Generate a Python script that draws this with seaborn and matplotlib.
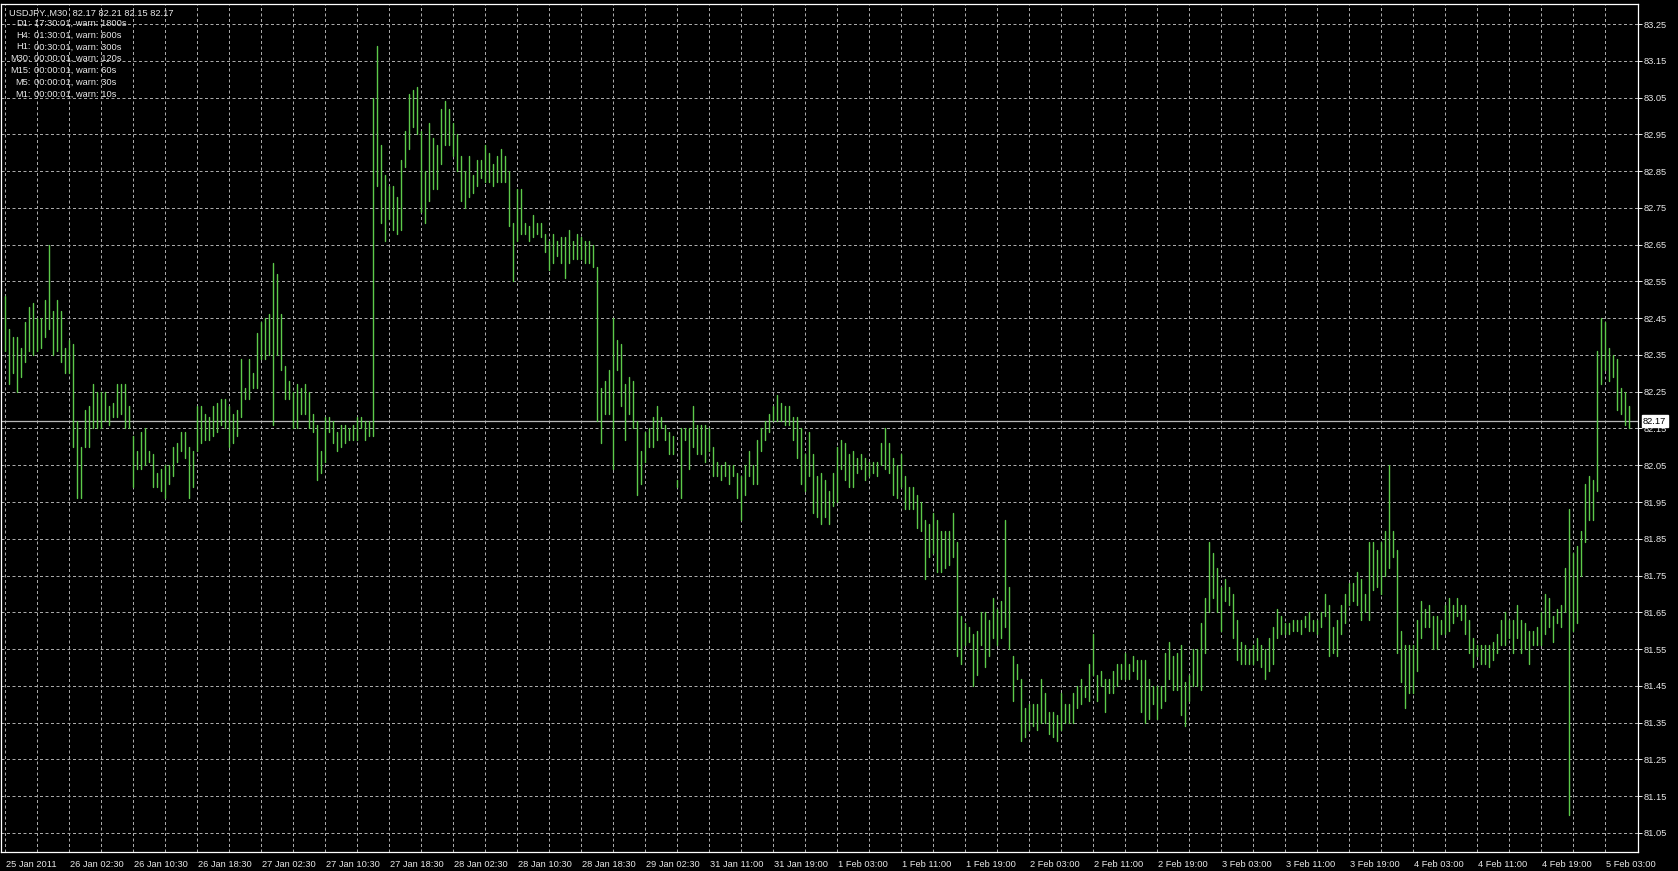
import numpy as np
import pandas as pd
import matplotlib
matplotlib.use("Agg")
import matplotlib.pyplot as plt
import matplotlib.transforms as mtransforms
import seaborn as sns

# USDJPY M30 bars, high and low of every bar
bar_high = [
    82.51, 82.42, 82.40, 82.40, 82.37, 82.44, 82.48, 82.49, 82.45, 82.45,
    82.50, 82.65, 82.47, 82.50, 82.47, 82.37, 82.39, 82.38, 82.17, 82.10,
    82.20, 82.21, 82.27, 82.25, 82.25, 82.25, 82.21, 82.22, 82.27, 82.27,
    82.27, 82.21, 82.13, 82.09, 82.14, 82.15, 82.09, 82.08, 82.03, 82.04,
    82.05, 82.05, 82.10, 82.11, 82.14, 82.14, 82.10, 82.09, 82.21, 82.21,
    82.19, 82.18, 82.21, 82.22, 82.23, 82.23, 82.21, 82.19, 82.20, 82.34,
    82.26, 82.34, 82.30, 82.41, 82.44, 82.45, 82.46, 82.60, 82.57, 82.46,
    82.32, 82.28, 82.25, 82.27, 82.26, 82.27, 82.25, 82.19, 82.16, 82.09,
    82.18, 82.18, 82.17, 82.14, 82.16, 82.16, 82.15, 82.16, 82.18, 82.18,
    82.17, 82.17, 83.05, 83.19, 82.92, 82.84, 82.81, 82.81, 82.78, 82.88,
    82.96, 83.06, 83.07, 83.08, 82.96, 82.85, 82.98, 82.94, 82.92, 83.02,
    83.04, 83.02, 82.98, 82.95, 82.89, 82.85, 82.89, 82.84, 82.88, 82.88,
    82.92, 82.90, 82.87, 82.89, 82.91, 82.89, 82.85, 82.71, 82.80, 82.80,
    82.71, 82.70, 82.73, 82.71, 82.71, 82.68, 82.66, 82.68, 82.66, 82.67,
    82.67, 82.69, 82.66, 82.68, 82.67, 82.66, 82.66, 82.65, 82.59, 82.26,
    82.28, 82.31, 82.45, 82.39, 82.38, 82.27, 82.29, 82.28, 82.17, 82.09,
    82.14, 82.15, 82.18, 82.21, 82.18, 82.16, 82.14, 82.13, 82.01, 82.15,
    82.15, 82.15, 82.21, 82.16, 82.16, 82.16, 82.15, 82.10, 82.06, 82.05,
    82.06, 82.05, 82.05, 82.03, 82.02, 82.05, 82.09, 82.05, 82.12, 82.15,
    82.17, 82.19, 82.21, 82.24, 82.22, 82.21, 82.21, 82.18, 82.18, 82.15,
    82.08, 82.14, 82.08, 82.02, 82.03, 82.01, 81.98, 82.03, 82.10, 82.12,
    82.11, 82.08, 82.09, 82.07, 82.08, 82.07, 82.06, 82.06, 82.06, 82.11,
    82.15, 82.11, 82.07, 82.05, 82.08, 82.02, 81.99, 81.99, 81.97, 81.95,
    81.90, 81.89, 81.92, 81.90, 81.87, 81.87, 81.87, 81.92, 81.84, 81.64,
    81.62, 81.61, 81.59, 81.60, 81.65, 81.65, 81.63, 81.69, 81.66, 81.68,
    81.90, 81.72, 81.53, 81.51, 81.47, 81.39, 81.40, 81.40, 81.40, 81.47,
    81.43, 81.38, 81.38, 81.37, 81.43, 81.40, 81.40, 81.43, 81.45, 81.47,
    81.45, 81.51, 81.59, 81.48, 81.49, 81.47, 81.47, 81.49, 81.51, 81.51,
    81.54, 81.51, 81.53, 81.52, 81.52, 81.52, 81.47, 81.45, 81.45, 81.45,
    81.54, 81.57, 81.53, 81.54, 81.56, 81.46, 81.48, 81.55, 81.55, 81.62,
    81.69, 81.84, 81.81, 81.77, 81.72, 81.74, 81.72, 81.70, 81.63, 81.57,
    81.56, 81.55, 81.56, 81.58, 81.56, 81.55, 81.58, 81.61, 81.66, 81.64,
    81.62, 81.62, 81.63, 81.63, 81.63, 81.64, 81.65, 81.63, 81.63, 81.65,
    81.70, 81.67, 81.61, 81.63, 81.67, 81.70, 81.73, 81.73, 81.76, 81.74,
    81.70, 81.84, 81.84, 81.82, 81.84, 81.87, 82.05, 81.87, 81.82, 81.60,
    81.56, 81.56, 81.56, 81.63, 81.68, 81.66, 81.67, 81.64, 81.64, 81.63,
    81.67, 81.69, 81.67, 81.69, 81.67, 81.67, 81.63, 81.58, 81.56, 81.56,
    81.56, 81.56, 81.57, 81.59, 81.63, 81.65, 81.63, 81.63, 81.67, 81.63,
    81.62, 81.60, 81.60, 81.61, 81.65, 81.70, 81.69, 81.64, 81.66, 81.67,
    81.77, 81.93, 81.81, 81.83, 81.87, 82.00, 82.02, 82.01, 82.36, 82.45,
    82.44, 82.37, 82.35, 82.34, 82.26, 82.25, 82.21,
]

bar_low = [
    82.36, 82.27, 82.30, 82.25, 82.29, 82.33, 82.36, 82.35, 82.36, 82.37,
    82.40, 82.42, 82.35, 82.36, 82.33, 82.30, 82.30, 82.10, 81.96, 81.96,
    82.10, 82.10, 82.15, 82.15, 82.15, 82.17, 82.16, 82.18, 82.18, 82.19,
    82.15, 82.15, 81.99, 82.04, 82.04, 82.05, 82.06, 81.99, 81.99, 81.98,
    81.96, 82.00, 82.02, 82.06, 82.09, 82.07, 81.96, 81.99, 82.09, 82.11,
    82.12, 82.12, 82.13, 82.14, 82.16, 82.15, 82.10, 82.11, 82.13, 82.18,
    82.23, 82.23, 82.26, 82.26, 82.34, 82.34, 82.35, 82.16, 82.35, 82.31,
    82.23, 82.23, 82.15, 82.15, 82.19, 82.19, 82.15, 82.14, 82.01, 82.03,
    82.06, 82.14, 82.11, 82.09, 82.10, 82.11, 82.12, 82.12, 82.12, 82.15,
    82.12, 82.13, 82.13, 82.81, 82.71, 82.66, 82.72, 82.69, 82.68, 82.69,
    82.86, 82.91, 82.97, 82.95, 82.74, 82.71, 82.77, 82.80, 82.80, 82.87,
    82.92, 82.92, 82.89, 82.85, 82.77, 82.75, 82.78, 82.79, 82.81, 82.83,
    82.82, 82.82, 82.81, 82.82, 82.82, 82.82, 82.70, 82.55, 82.66, 82.68,
    82.68, 82.66, 82.67, 82.68, 82.67, 82.63, 82.58, 82.60, 82.62, 82.60,
    82.56, 82.60, 82.61, 82.61, 82.61, 82.60, 82.60, 82.59, 82.17, 82.11,
    82.19, 82.19, 82.04, 82.31, 82.21, 82.12, 82.19, 82.15, 81.97, 82.00,
    82.06, 82.10, 82.10, 82.12, 82.15, 82.12, 82.08, 82.08, 81.99, 81.96,
    82.12, 82.04, 82.10, 82.08, 82.08, 82.06, 82.09, 82.02, 82.02, 82.01,
    82.02, 82.00, 82.02, 81.96, 81.90, 81.97, 82.02, 82.00, 82.00, 82.09,
    82.12, 82.14, 82.17, 82.17, 82.17, 82.16, 82.16, 82.12, 82.07, 82.00,
    81.98, 82.02, 81.92, 81.91, 81.89, 81.91, 81.89, 81.94, 81.95, 82.04,
    82.01, 81.99, 81.99, 82.03, 82.04, 82.01, 82.02, 82.03, 82.02, 82.05,
    82.04, 82.03, 81.97, 81.96, 81.99, 81.93, 81.93, 81.93, 81.88, 81.87,
    81.74, 81.80, 81.81, 81.76, 81.76, 81.77, 81.78, 81.80, 81.53, 81.51,
    81.56, 81.57, 81.45, 81.48, 81.56, 81.50, 81.53, 81.58, 81.56, 81.58,
    81.61, 81.55, 81.41, 81.47, 81.30, 81.31, 81.33, 81.34, 81.33, 81.35,
    81.35, 81.32, 81.31, 81.30, 81.33, 81.35, 81.35, 81.35, 81.39, 81.40,
    81.42, 81.41, 81.48, 81.41, 81.45, 81.38, 81.43, 81.43, 81.45, 81.47,
    81.47, 81.47, 81.49, 81.47, 81.38, 81.35, 81.36, 81.40, 81.36, 81.39,
    81.41, 81.47, 81.44, 81.44, 81.37, 81.34, 81.41, 81.45, 81.45, 81.44,
    81.54, 81.65, 81.69, 81.65, 81.60, 81.68, 81.67, 81.58, 81.52, 81.51,
    81.51, 81.51, 81.51, 81.52, 81.50, 81.47, 81.49, 81.51, 81.58, 81.59,
    81.59, 81.59, 81.60, 81.60, 81.59, 81.61, 81.60, 81.60, 81.59, 81.61,
    81.64, 81.53, 81.54, 81.53, 81.59, 81.62, 81.67, 81.68, 81.67, 81.63,
    81.65, 81.63, 81.71, 81.72, 81.70, 81.75, 81.77, 81.80, 81.54, 81.46,
    81.39, 81.43, 81.43, 81.49, 81.58, 81.61, 81.61, 81.55, 81.55, 81.59,
    81.59, 81.60, 81.62, 81.64, 81.63, 81.59, 81.54, 81.50, 81.53, 81.51,
    81.51, 81.50, 81.52, 81.54, 81.56, 81.56, 81.58, 81.54, 81.58, 81.54,
    81.55, 81.51, 81.56, 81.56, 81.56, 81.59, 81.61, 81.57, 81.62, 81.61,
    81.65, 81.10, 81.60, 81.62, 81.75, 81.84, 81.90, 81.90, 81.98, 82.27,
    82.31, 82.28, 82.29, 82.20, 82.19, 82.16, 82.15,
]

# one time label every 16 bars (8 hours of M30)
time_labels = [
    "25 Jan 2011", "26 Jan 02:30", "26 Jan 10:30", "26 Jan 18:30",
    "27 Jan 02:30", "27 Jan 10:30", "27 Jan 18:30", "28 Jan 02:30",
    "28 Jan 10:30", "28 Jan 18:30", "29 Jan 02:30", "31 Jan 11:00",
    "31 Jan 19:00", "1 Feb 03:00", "1 Feb 11:00", "1 Feb 19:00",
    "2 Feb 03:00", "2 Feb 11:00", "2 Feb 19:00", "3 Feb 03:00",
    "3 Feb 11:00", "3 Feb 19:00", "4 Feb 03:00", "4 Feb 11:00",
    "4 Feb 19:00", "5 Feb 03:00",
]
price_ticks = [81.05, 81.15, 81.25, 81.35, 81.45, 81.55, 81.65, 81.75,
               81.85, 81.95, 82.05, 82.15, 82.25, 82.35, 82.45, 82.55,
               82.65, 82.75, 82.85, 82.95, 83.05, 83.15, 83.25]
bid_price = 82.17

header = "USDJPY.,M30  82.17 82.21 82.15 82.17"
timer_names = ["D1:", "H4:", "H1:", "M30:", "M15:", "M5:", "M1:"]
timer_texts = ["17:30:01, warn: 1800s", "01:30:01, warn: 600s",
               "00:30:01, warn: 300s", "00:00:01, warn: 120s",
               "00:00:01, warn: 60s", "00:00:01, warn: 30s",
               "00:00:01, warn: 10s"]

assert len(bar_high) == len(bar_low)
n_bars = len(bar_high)

# long table: each bar is a unit with its low and high point
bars = pd.DataFrame({
    "bar": np.repeat(np.arange(n_bars), 2),
    "price": np.column_stack([bar_low, bar_high]).ravel(),
})

sns.set_style("dark", {"axes.facecolor": "black", "figure.facecolor": "black"})
plt.rcParams["font.family"] = ["Liberation Sans", "DejaVu Sans"]

W, H = 1678, 871
fig = plt.figure(figsize=(W / 100, H / 100), dpi=100)
fig.patch.set_facecolor("black")
ax = fig.add_axes([1 / W, 19 / H, 1637 / W, 848 / H])
ax.set_facecolor("black")

green = "#5cc94a"
grid_col = "#a9a9a9"
txt_col = "#e8e8e8"

sns.lineplot(data=bars, x="bar", y="price", units="bar", estimator=None,
             color=green, linewidth=1.0, ax=ax, zorder=3)

ax.set_xlim(-1, 408.25)
ax.set_ylim(80.9982, 83.3044)

# grid: horizontal at every price tick, vertical every 8 bars
label_every = 16
ax.set_xticks(np.arange(len(time_labels)) * label_every)
ax.set_xticks(np.arange(0, n_bars, 8), minor=True)
ax.set_yticks(price_ticks)
ax.grid(True, which="both", color=grid_col, linestyle=(0, (3, 2.5)),
        linewidth=0.72)
ax.set_axisbelow(True)

ax.set_xticklabels(time_labels)
ax.yaxis.tick_right()
ax.set_yticklabels([f"{p:.2f}" for p in price_ticks])
ax.tick_params(axis="x", which="major", colors=txt_col, length=4.5,
               width=0.72, pad=1.5, labelsize=6.7, direction="out")
ax.tick_params(axis="x", which="minor", length=0)
ax.tick_params(axis="y", colors=txt_col, length=3, width=0.72, pad=1.2,
               labelsize=6.7, direction="out")
shift = mtransforms.ScaledTranslation(1 / 100, 0, fig.dpi_scale_trans)
for lab in ax.get_xticklabels():
    lab.set_horizontalalignment("left")
    lab.set_transform(lab.get_transform() + shift)

ax.set_xlabel("")
ax.set_ylabel("")
for side in ["left", "right", "top", "bottom"]:
    ax.spines[side].set_visible(True)
    ax.spines[side].set_color("white")
    ax.spines[side].set_linewidth(0.9)

# bid line and its price box
ax.axhline(bid_price, color="#b8b8b8", linewidth=0.9, zorder=2)
trans = mtransforms.blended_transform_factory(ax.transAxes, ax.transData)
ax.text(1.0, bid_price, f"{bid_price:.2f}", transform=trans + mtransforms.ScaledTranslation(5 / 100, 0, fig.dpi_scale_trans),
        ha="left", va="center", fontsize=6.7, color="black", zorder=5,
        clip_on=False,
        bbox=dict(boxstyle="square,pad=0.15", facecolor="white",
                  edgecolor="white"))

# timer comment in the top left corner
fig.text(9 / W, 1 - 13 / H, header, color=txt_col, fontsize=6.7,
         ha="left", va="center")
for k, (name, rest) in enumerate(zip(timer_names, timer_texts)):
    y = 1 - (23.3 + 11.8 * k) / H
    fig.text(31 / W, y, name, color=txt_col, fontsize=6.7, ha="right",
             va="center")
    fig.text(33.5 / W, y, rest, color=txt_col, fontsize=6.7, ha="left",
             va="center")

fig.savefig("out.png", dpi=100, facecolor="black")
